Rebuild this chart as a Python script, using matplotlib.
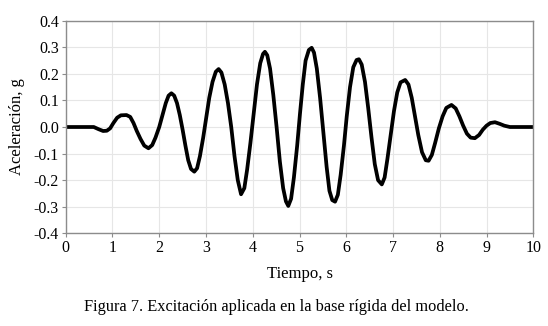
import matplotlib
matplotlib.use('Agg')
import matplotlib.pyplot as plt

# acceleration record (time in s, acceleration in g)
tiempo = [0.00, 0.60, 0.70, 0.80, 0.88, 0.95, 1.02, 1.10, 1.18, 1.30, 1.38, 1.45, 1.52, 1.60, 1.68, 1.77,
          1.85, 1.92, 2.00, 2.07, 2.14, 2.20, 2.26, 2.32, 2.38, 2.44, 2.50, 2.56, 2.62, 2.68, 2.75, 2.81,
          2.87, 2.94, 3.00, 3.07, 3.14, 3.21, 3.27, 3.33, 3.40, 3.47, 3.54, 3.61, 3.68, 3.75, 3.82, 3.88,
          3.95, 4.02, 4.09, 4.16, 4.22, 4.26, 4.31, 4.37, 4.44, 4.51, 4.58, 4.65, 4.71, 4.76, 4.82, 4.88,
          4.95, 5.01, 5.07, 5.13, 5.20, 5.26, 5.31, 5.37, 5.44, 5.51, 5.58, 5.64, 5.70, 5.76, 5.82, 5.88,
          5.95, 6.01, 6.08, 6.15, 6.22, 6.27, 6.33, 6.40, 6.47, 6.54, 6.61, 6.68, 6.76, 6.82, 6.88, 6.95,
          7.02, 7.09, 7.16, 7.26, 7.33, 7.40, 7.47, 7.54, 7.62, 7.70, 7.76, 7.83, 7.90, 7.98, 8.06, 8.14,
          8.25, 8.34, 8.42, 8.50, 8.58, 8.66, 8.75, 8.84, 8.92, 9.00, 9.08, 9.18, 9.28, 9.38, 9.50, 10.00]
aceleracion = [0.000, 0.000, -0.008, -0.015, -0.014, -0.005, 0.015, 0.035, 0.044, 0.045, 0.038, 0.015,
               -0.015, -0.045, -0.070, -0.080, -0.068, -0.040, 0.000, 0.045, 0.090, 0.118, 0.127, 0.118,
               0.090, 0.045, -0.010, -0.070, -0.125, -0.158, -0.168, -0.155, -0.110, -0.040, 0.030, 0.110,
               0.170, 0.208, 0.218, 0.205, 0.160, 0.090, 0.000, -0.110, -0.200, -0.253, -0.230, -0.160,
               -0.060, 0.050, 0.160, 0.240, 0.275, 0.283, 0.270, 0.220, 0.120, 0.000, -0.130, -0.230,
               -0.280, -0.297, -0.270, -0.190, -0.070, 0.050, 0.160, 0.250, 0.290, 0.298, 0.280, 0.220,
               0.110, -0.020, -0.150, -0.240, -0.275, -0.281, -0.255, -0.180, -0.070, 0.040, 0.150, 0.225,
               0.252, 0.255, 0.235, 0.170, 0.070, -0.040, -0.140, -0.200, -0.216, -0.190, -0.120, -0.030,
               0.060, 0.130, 0.168, 0.177, 0.160, 0.110, 0.040, -0.030, -0.095, -0.125, -0.127, -0.105,
               -0.060, -0.005, 0.040, 0.072, 0.083, 0.070, 0.040, 0.005, -0.025, -0.040, -0.042, -0.030,
               -0.010, 0.005, 0.015, 0.018, 0.012, 0.005, 0.000, 0.000]

x_ticks = list(range(0, 11))
y_ticks = [-0.4, -0.3, -0.2, -0.1, 0.0, 0.1, 0.2, 0.3, 0.4]

plt.rcParams['font.family'] = ['Liberation Serif', 'DejaVu Serif']

fig = plt.figure(figsize=(5.48, 3.26), dpi=100)
ax = fig.add_axes([0.1199, 0.2843, 0.8533, 0.6522])
ax.plot(tiempo, aceleracion, color='black', linewidth=2.7, solid_joinstyle='round')

ax.set_xlim(0, 10)
ax.set_ylim(-0.4, 0.4)
ax.set_xticks(x_ticks)
ax.set_yticks(y_ticks)
ax.set_xticklabels([str(t) for t in x_ticks])
ax.set_yticklabels(['{:.1f}'.format(v) for v in y_ticks])
ax.grid(True, color='#e6e6e6', linewidth=0.8)
ax.set_axisbelow(True)
for side in ax.spines.values():
    side.set_color('#8c8c8c')
    side.set_linewidth(1.0)
ax.tick_params(axis='both', colors='#8c8c8c', labelcolor='black', labelsize=11.5, length=3, width=0.8, pad=2)

ax.set_xlabel('Tiempo, s', fontsize=12, labelpad=7)
ax.set_ylabel('Aceleración, g', fontsize=12, labelpad=6)

fig.text(0.505, 0.058, 'Figura 7. Excitación aplicada en la base rígida del modelo.',
         ha='center', va='center', fontsize=11.8)

fig.savefig('out.png', dpi=100)
